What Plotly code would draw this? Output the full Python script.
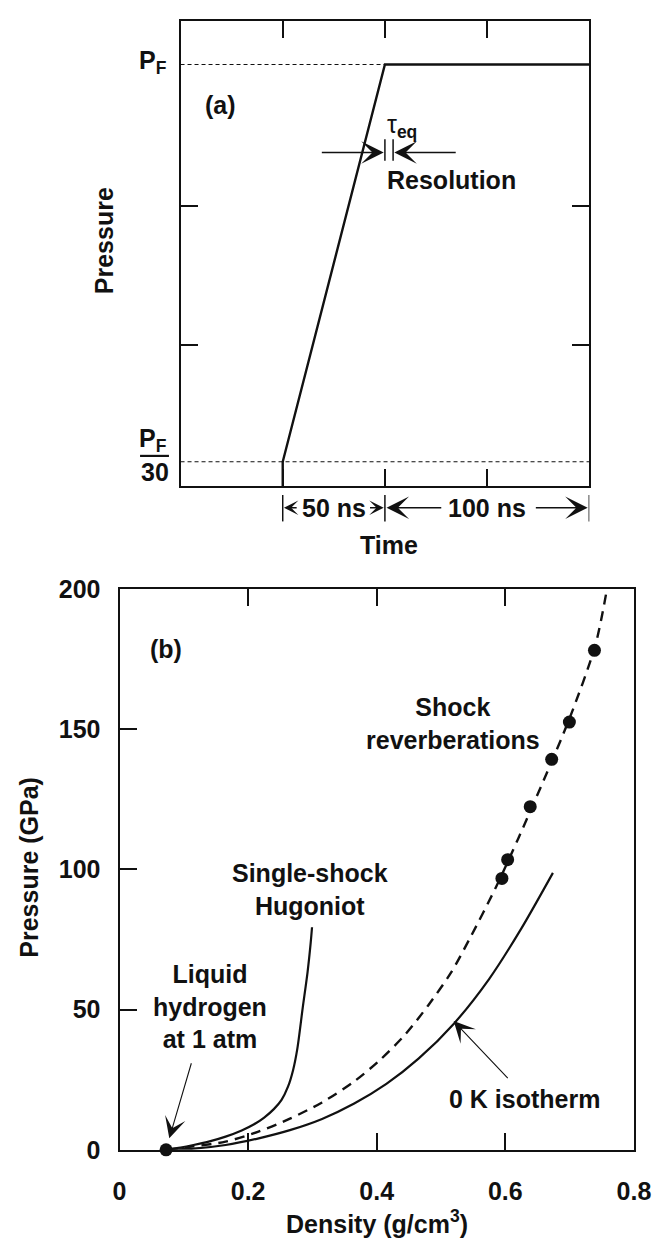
import plotly.graph_objects as go

W, H = 668, 1255
FONT = "Liberation Sans"
INK = "#111111"

# ---------------- Panel (a) data : schematic pressure pulse ----------------
PF = 1.0                                   # final pressure (normalised)
pulse_time_ns = [50, 50, 100, 200]         # ramp start, ramp end, hold end
pulse_pressure = [None, PF / 30, PF, PF]   # first value = axis floor (filled below)
pf_line_time = [0, 100]
pf30_line_time = [0, 200]
dimension_marks_ns = [50, 100, 200]
dimension_labels = ["50 ns", "100 ns"]
tau_bounds_ns = [100, 104]

# ---------------- Panel (b) data : hydrogen EOS ----------------
isotherm_density = [0.075, 0.115, 0.165, 0.215, 0.265, 0.315, 0.365, 0.415,
                    0.465, 0.520, 0.575, 0.625, 0.674]
isotherm_pressure = [0.1, 0.4, 1.7, 4.0, 7.0, 11.0, 16.5, 23.5,
                     32.5, 45.0, 61.0, 79.0, 98.8]

reverb_curve_density = [0.075, 0.115, 0.165, 0.215, 0.265, 0.315, 0.365, 0.405,
                        0.445, 0.480, 0.515, 0.545, 0.585, 0.620, 0.660, 0.700,
                        0.740, 0.758]
reverb_curve_pressure = [0.1, 1.2, 2.9, 6.4, 11.1, 16.9, 24.4, 32.0,
                         41.3, 51.5, 63.0, 75.5, 93.5, 111.0, 132.0, 154.0,
                         180.0, 200.0]

hugoniot_density = [0.075, 0.095, 0.115, 0.140, 0.165, 0.190, 0.210, 0.225,
                    0.240, 0.252, 0.262, 0.270, 0.2765, 0.2849, 0.2925, 0.2973,
                    0.2994]
hugoniot_pressure = [0.1, 0.8, 1.7, 3.0, 4.7, 6.9, 9.2, 11.5,
                     14.5, 17.8, 22.5, 28.5, 36.0, 50.6, 63.5, 73.8,
                     79.4]

reverb_density = [0.5947, 0.6036, 0.6387, 0.6721, 0.6996, 0.7386]
reverb_pressure = [96.8, 103.5, 122.4, 139.3, 152.6, 178.2]

liquid_h2_density = [0.0724]
liquid_h2_pressure = [0.0]

xb_ticks = [0, 0.2, 0.4, 0.6, 0.8]
xb_ticktext = ["0", "0.2", "0.4", "0.6", "0.8"]
yb_ticks = [0, 50, 100, 150, 200]

# ---------------- geometry helpers ----------------
def pxx(p):
    return p / W

def pxy(p):
    return 1 - p / H

# panel (a) y-range: PF at 51.7 px, PF/30 at 458 px, box 7..483 px
A_PF_PX, A_PF30_PX, A_TOP, A_BOT = 51.7, 458.0, 7.0, 483.0
A_SCALE = (A_PF30_PX - A_PF_PX) / (PF - PF / 30)
YA_RANGE = [PF / 30 - (A_BOT - A_PF30_PX) / A_SCALE, PF + (A_PF_PX - A_TOP) / A_SCALE]
ya_ticks = [PF - (196 - A_PF_PX) / A_SCALE, PF - (339 - A_PF_PX) / A_SCALE]
pulse_pressure[0] = YA_RANGE[0]

def ya(py):
    return PF - (py - A_PF_PX) / A_SCALE

def xa(px):
    return (px - 180) / 424 * 200

fig = go.Figure()

# ---- panel (a) traces ----
fig.add_trace(go.Scatter(x=pulse_time_ns, y=pulse_pressure, mode="lines",
                         line=dict(color=INK, width=2.4), xaxis="x", yaxis="y",
                         cliponaxis=False, showlegend=False))
fig.add_trace(go.Scatter(x=pf_line_time, y=[PF, PF], mode="lines",
                         line=dict(color=INK, width=1.1, dash="4px,3px"),
                         xaxis="x", yaxis="y", showlegend=False))
fig.add_trace(go.Scatter(x=pf30_line_time, y=[PF / 30, PF / 30], mode="lines",
                         line=dict(color=INK, width=1.1, dash="4px,3px"),
                         xaxis="x", yaxis="y", showlegend=False))

# ---- panel (b) traces ----
fig.add_trace(go.Scatter(x=isotherm_density, y=isotherm_pressure, mode="lines",
                         line=dict(color=INK, width=2.2, shape="spline", smoothing=0.8),
                         xaxis="x2", yaxis="y2", showlegend=False))
fig.add_trace(go.Scatter(x=reverb_curve_density, y=reverb_curve_pressure, mode="lines",
                         line=dict(color=INK, width=2.4, dash="10px,7px",
                                   shape="spline", smoothing=0.8),
                         xaxis="x2", yaxis="y2", showlegend=False))
fig.add_trace(go.Scatter(x=hugoniot_density, y=hugoniot_pressure, mode="lines",
                         line=dict(color=INK, width=2.2, shape="spline", smoothing=0.8),
                         xaxis="x2", yaxis="y2", showlegend=False))
fig.add_trace(go.Scatter(x=reverb_density, y=reverb_pressure, mode="markers",
                         marker=dict(color=INK, size=13), xaxis="x2", yaxis="y2",
                         showlegend=False))
fig.add_trace(go.Scatter(x=liquid_h2_density, y=liquid_h2_pressure, mode="markers",
                         marker=dict(color=INK, size=13), xaxis="x2", yaxis="y2",
                         cliponaxis=False, showlegend=False))

axis_common = dict(showgrid=False, zeroline=False, showline=True, linecolor=INK,
                   linewidth=2, ticks="inside", tickcolor=INK, tickwidth=1.5)
tickfont = dict(family=FONT, size=25, color=INK, weight="bold")

fig.update_layout(
    width=W, height=H, margin=dict(l=0, r=0, t=0, b=0),
    paper_bgcolor="white", plot_bgcolor="white",
    xaxis=dict(domain=[pxx(180), pxx(604)], range=[0, 200], tickvals=[50, 100, 150],
               ticklen=17, mirror="allticks", showticklabels=False, anchor="y",
               **axis_common),
    yaxis=dict(domain=[pxy(A_BOT), pxy(A_TOP)], range=YA_RANGE, tickvals=ya_ticks,
               ticklen=17, mirror="allticks", showticklabels=False, anchor="x",
               **axis_common),
    xaxis2=dict(domain=[pxx(116.7), pxx(650.3)], range=[0, 0.8], tickvals=xb_ticks,
                ticktext=xb_ticktext, ticklen=17, mirror="allticks", anchor="y2",
                tickfont=tickfont, ticklabelstandoff=18, **axis_common),
    yaxis2=dict(domain=[pxy(1161.7), pxy(588.3)], range=[0, 200], tickvals=yb_ticks,
                ticklen=17, mirror=True, anchor="x2", tickfont=tickfont,
                ticklabelstandoff=12, **axis_common),
)

ann = []
def text(x, y, s, xref="paper", yref="paper", size=25, xanchor="center",
         yanchor="middle", angle=0, weight="bold"):
    ann.append(dict(x=x, y=y, xref=xref, yref=yref, text=s, showarrow=False,
                    xanchor=xanchor, yanchor=yanchor, textangle=angle,
                    font=dict(family=FONT, size=size, color=INK, weight=weight)))

def arrow(x, y, ax, ay, xref, yref, axref, ayref, width=1.5, size=2.5):
    ann.append(dict(x=x, y=y, ax=ax, ay=ay, xref=xref, yref=yref, axref=axref,
                    ayref=ayref, text="", showarrow=True, arrowhead=3,
                    arrowsize=size, arrowwidth=width, arrowcolor=INK))

# ---- panel (a) labels ----
text(pxx(168), pxy(49), "P<sub>F</sub>", xanchor="right")
text(pxx(168), pxy(436), "P<sub>F</sub>", xanchor="right")
text(pxx(153), pxy(468), "30")
text(pxx(100), pxy(232), "Pressure", angle=-90)
text(pxx(396), pxy(543), "Time")
text(xa(221), ya(93), "(a)", xref="x", yref="y")
text(tau_bounds_ns[0], ya(115), "τ<sub><b>eq</b></sub>", xref="x", yref="y",
     xanchor="left", weight="normal")
text(tau_bounds_ns[0], ya(170), "Resolution", xref="x", yref="y", xanchor="left")

y_res = ya(141.7)
arrow(tau_bounds_ns[0] - 0.6, y_res, xa(325), y_res, "x", "y", "x", "y")
arrow(tau_bounds_ns[1] + 0.6, y_res, xa(467), y_res, "x", "y", "x", "y")

# dimension arrows below panel (a)
y_dim = pxy(505)
text((dimension_marks_ns[0] + dimension_marks_ns[1]) / 2, y_dim, dimension_labels[0],
     xref="x", yref="paper")
text((dimension_marks_ns[1] + dimension_marks_ns[2]) / 2, y_dim, dimension_labels[1],
     xref="x", yref="paper")
arrow(dimension_marks_ns[0] + 0.6, y_dim, xa(302), 0, "x", "paper", "x", "pixel",
      size=1.6)
arrow(dimension_marks_ns[1] - 0.6, y_dim, xa(375), 0, "x", "paper", "x", "pixel",
      size=1.6)
arrow(dimension_marks_ns[1] + 0.8, y_dim, xa(452), 0, "x", "paper", "x", "pixel")
arrow(dimension_marks_ns[2] - 0.8, y_dim, xa(547), 0, "x", "paper", "x", "pixel")

# ---- panel (b) labels ----
text(pxx(22), pxy(873), "Pressure (GPa)", angle=-90)
text(pxx(384), pxy(1236), "Density (g/cm<sup>3</sup>)")
text(0.0722, 178.7, "(b)", xref="x2", yref="y2")
text(0.519, 152, "Shock<br>reverberations", xref="x2", yref="y2")
text(0.296, 93, "Single-shock<br>Hugoniot", xref="x2", yref="y2")
text(0.140, 51.2, "Liquid<br>hydrogen<br>at 1 atm", xref="x2", yref="y2")
text(0.5098, 18.0, "0 K isotherm", xref="x2", yref="y2", xanchor="left")
arrow(0.0774, 4.1, 0.1124, 31.4, "x2", "y2", "x2", "y2", width=1.1, size=3.2)
arrow(0.5197, 45.9, 0.606, 25.0, "x2", "y2", "x2", "y2", width=1.1, size=3.2)

fig.update_layout(annotations=ann)

# ---- shapes: fraction bar and dimension / resolution tick bars ----
shapes = [dict(type="line", xref="paper", yref="paper", x0=pxx(138), x1=pxx(168),
               y0=pxy(452), y1=pxy(452), line=dict(color=INK, width=2.2))]
for t in dimension_marks_ns:
    shapes.append(dict(type="line", xref="x", yref="paper", x0=t, x1=t,
                       y0=pxy(492), y1=pxy(519), line=dict(color=INK, width=1.5)))
for t in tau_bounds_ns:
    shapes.append(dict(type="line", xref="x", yref="y", x0=t, x1=t,
                       y0=ya(128), y1=ya(150), line=dict(color=INK, width=1.5)))
fig.update_layout(shapes=shapes)

fig.write_html("out.html")
